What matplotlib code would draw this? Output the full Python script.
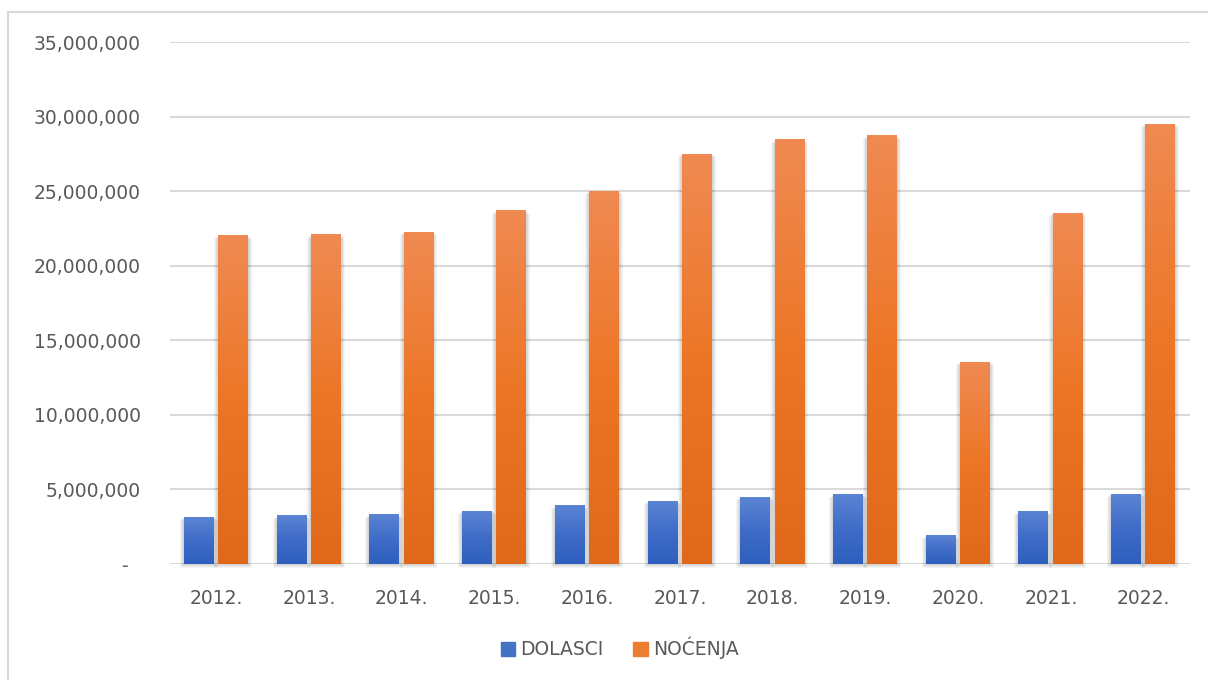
import numpy as np
import matplotlib
matplotlib.use("Agg")
import matplotlib.pyplot as plt
from matplotlib.patches import Patch, Rectangle
from matplotlib.colors import LinearSegmentedColormap

# data
years = ['2012.', '2013.', '2014.', '2015.', '2016.', '2017.', '2018.', '2019.', '2020.', '2021.', '2022.']
dolasci = [3150000, 3220000, 3290000, 3550000, 3890000, 4220000, 4490000, 4630000, 1880000, 3490000, 4690000]
nocenja = [22000000, 22060000, 22260000, 23670000, 25000000, 27490000, 28430000, 28700000, 13540000, 23530000, 29500000]

blue_grad = LinearSegmentedColormap.from_list('b', ['#2f5ebd', '#3f6cc8', '#5b84d3'])
orange_grad = LinearSegmentedColormap.from_list('o', ['#e0681a', '#ec7626', '#f08a52'])

fig = plt.figure(figsize=(12.08, 6.8), dpi=100)
ax = fig.add_axes([170 / 1208, 1 - 564 / 680, 1020 / 1208, 522 / 680])

# outer chart frame
fig.add_artist(Rectangle((8 / 1208, -0.05), 1.1, 1 - 12 / 680 + 0.05, transform=fig.transFigure,
                         fill=False, edgecolor='#d9d9d9', lw=1.5))

x = np.arange(len(years))
w = 0.32
grad = np.linspace(0, 1, 256).reshape(-1, 1)
px_x = 11 / 1020          # data units per pixel, x
px_y = 35000000 / 522     # data units per pixel, y

def grad_bars(xs, vals, color, cmap):
    bars = ax.bar(xs, vals, w, color=color, zorder=3)
    for b in bars:
        x0, h = b.get_x(), b.get_height()
        # soft shadow around the bar
        for k in (1, 2, 3, 4):
            ax.add_patch(Rectangle((x0 - k * px_x, -k * 1.0 * px_y), w + 2 * k * px_x, h + k * 0.3 * px_y,
                                   facecolor='#000000', alpha=0.045, lw=0, zorder=2, clip_on=False))
        ax.imshow(grad, cmap=cmap, origin='lower', aspect='auto', zorder=4,
                  extent=(x0, x0 + w, 0, h))
    return bars

grad_bars(x - 0.19, dolasci, '#4472c4', blue_grad)
grad_bars(x + 0.18, nocenja, '#ed7d31', orange_grad)

ax.set_xlim(-0.5, len(years) - 0.5)
ax.set_ylim(0, 35000000)
ax.set_yticks(np.arange(0, 35000001, 5000000))
ax.set_yticklabels(['-  ' if v == 0 else f'{v:,}' for v in range(0, 35000001, 5000000)])
ax.set_xticks(x)
ax.set_xticklabels(years)

ax.grid(axis='y', color='#d9d9d9', lw=1.5, zorder=0)
ax.set_axisbelow(True)
for s in ax.spines.values():
    s.set_visible(False)
ax.tick_params(axis='y', length=0, pad=21, labelsize=13.5, labelcolor='#595959')
ax.tick_params(axis='x', length=0, pad=18, labelsize=13.5, labelcolor='#595959')

handles = [Patch(color='#4472c4', label='DOLASCI'), Patch(color='#ed7d31', label='NOĆENJA')]
fig.legend(handles=handles, loc='center', bbox_to_anchor=(0.513, 1 - 648 / 680), ncol=2, frameon=False,
           handlelength=0.75, handleheight=0.75, handletextpad=0.3, columnspacing=1.6,
           prop={'size': 13.5}, labelcolor='#595959')

fig.savefig('out.png', dpi=100)
